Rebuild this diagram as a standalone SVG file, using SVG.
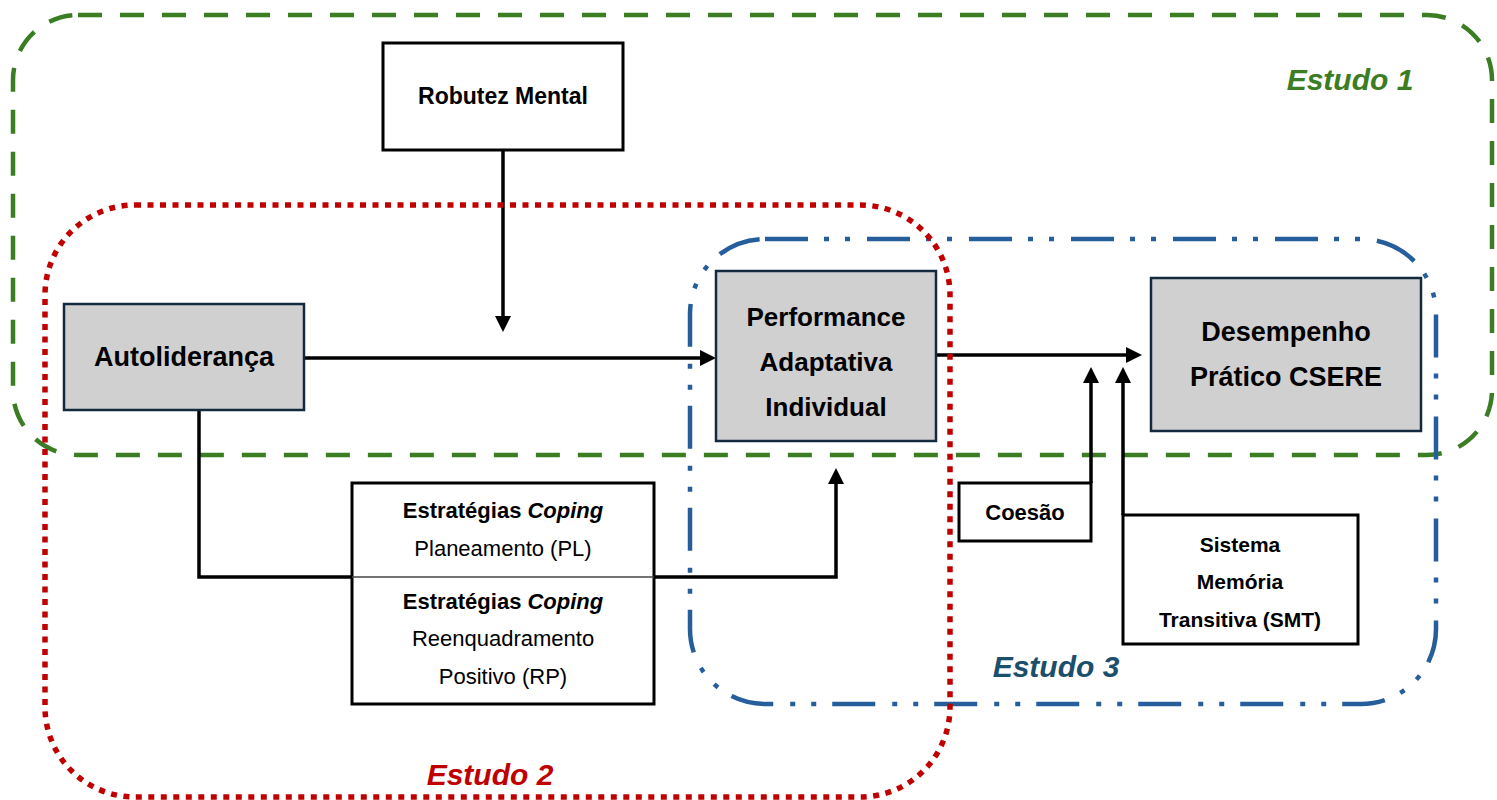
<svg xmlns="http://www.w3.org/2000/svg" width="1497" height="800" viewBox="0 0 1497 800">
<defs>
<style>
.lbl{font-family:"Liberation Sans",Arial,sans-serif;font-weight:bold;fill:#000;text-anchor:middle}
.reg{font-weight:normal}
.it{font-style:italic}
.study{font-family:"Liberation Sans",Arial,sans-serif;font-weight:bold;font-style:italic;font-size:30px}
.box{fill:#fff;stroke:#000;stroke-width:3}
.gbox{fill:#D0D0D0;stroke:#13293D;stroke-width:2.5}
.conn{fill:none;stroke:#000;stroke-width:3.5;marker-end:url(#ah)}
</style>
<marker id="ah" viewBox="0 0 16 16" refX="11" refY="8" markerWidth="16" markerHeight="16" markerUnits="userSpaceOnUse" orient="auto">
<path d="M0,0 L16,8 L0,16 z" fill="#000"/>
</marker>
</defs>
<rect width="1497" height="800" fill="#fff"/>

<g id="estudo1">
<rect x="13" y="15" width="1479" height="440" rx="65" ry="65" fill="none" stroke="#3B7D23" stroke-width="4.5" stroke-dasharray="24 18"/>
<text class="study" x="1350" y="90" text-anchor="middle" fill="#3B7D23">Estudo 1</text>
</g>

<g id="connectors">
<path class="conn" d="M503,150 V327"/>
<path class="conn" d="M304,358 H711"/>
<path class="conn" d="M199,410 V577 H836 V473"/>
<path class="conn" d="M936,355 H1137"/>
<path class="conn" d="M1091,483 V372"/>
<path class="conn" d="M1123,515 V372"/>
</g>

<g id="estudo3">
<rect x="690" y="239" width="746" height="465" rx="75" ry="75" fill="none" stroke="#255E9B" stroke-width="4.5" stroke-dasharray="43 16 5 16 5 17"/>
<text class="study" x="1056" y="677" text-anchor="middle" fill="#1B4F6B">Estudo 3</text>
</g>

<g id="estudo2">
<rect x="45" y="205" width="905" height="592" rx="90" ry="90" fill="none" stroke="#C00000" stroke-width="5.5" stroke-dasharray="6 6.5"/>
<text class="study" x="490" y="785" text-anchor="middle" fill="#C00000">Estudo 2</text>
</g>

<g id="robutez">
<rect class="box" x="383" y="43" width="240" height="107"/>
<text class="lbl" x="503" y="104" font-size="23">Robutez Mental</text>
</g>

<g id="autolideranca">
<rect class="gbox" x="64" y="304" width="240" height="106"/>
<text class="lbl" x="184" y="366" font-size="27">Autoliderança</text>
</g>

<g id="performance">
<rect class="gbox" x="716" y="271" width="220" height="170"/>
<text class="lbl" x="826" y="326" font-size="26">Performance</text>
<text class="lbl" x="826" y="371" font-size="26">Adaptativa</text>
<text class="lbl" x="826" y="416" font-size="26">Individual</text>
</g>

<g id="desempenho">
<rect class="gbox" x="1151" y="278" width="270" height="153"/>
<text class="lbl" x="1286" y="341" font-size="27">Desempenho</text>
<text class="lbl" x="1286" y="386" font-size="27">Prático CSERE</text>
</g>

<g id="coping">
<rect class="box" x="352" y="483" width="302" height="221"/>
<line x1="352" y1="577" x2="654" y2="577" stroke="#444" stroke-width="1.5"/>
<text class="lbl" x="503" y="518" font-size="22">Estratégias <tspan class="it">Coping</tspan></text>
<text class="lbl reg" x="503" y="556" font-size="22">Planeamento (PL)</text>
<text class="lbl" x="503" y="609" font-size="22">Estratégias <tspan class="it">Coping</tspan></text>
<text class="lbl reg" x="503" y="646" font-size="22">Reenquadramento</text>
<text class="lbl reg" x="503" y="684" font-size="22">Positivo (RP)</text>
</g>

<g id="coesao">
<rect class="box" x="959" y="483" width="132" height="58"/>
<text class="lbl" x="1025" y="520" font-size="22">Coesão</text>
</g>

<g id="smt">
<rect class="box" x="1123" y="515" width="235" height="129"/>
<text class="lbl" x="1240" y="552" font-size="21">Sistema</text>
<text class="lbl" x="1240" y="589" font-size="21">Memória</text>
<text class="lbl" x="1240" y="627" font-size="21">Transitiva (SMT)</text>
</g>
</svg>
